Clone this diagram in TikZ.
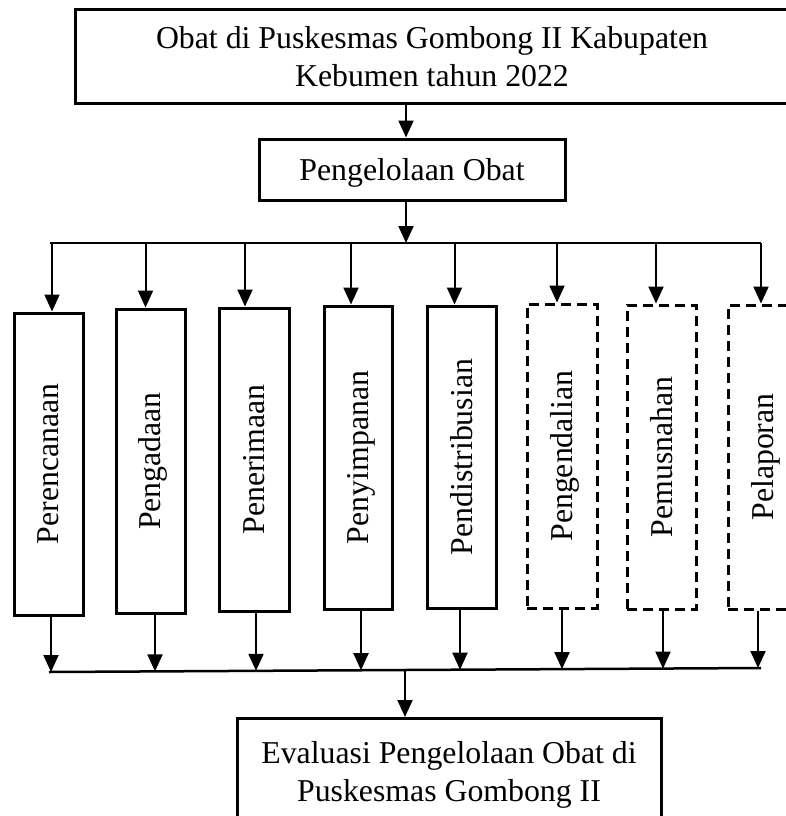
\documentclass[tikz,border=0pt]{standalone}
\usepackage{fontspec}
\setmainfont{Liberation Serif}
\usetikzlibrary{arrows.meta}
\newcommand\stagetext[1]{\rotatebox{90}{\raisebox{0pt}[0.66em][0pt]{#1}}}
\begin{document}
\begin{tikzpicture}[x=1pt,y=-1pt,
  font=\fontsize{31.8}{37.5}\selectfont,
  solidbox/.style={draw,line width=3pt,inner sep=0pt},
  dashbox/.style={draw,line width=3pt,dash pattern=on 10pt off 6pt,inner sep=0pt},
  conn/.style={line width=2pt,-{Triangle[length=17pt,width=15pt]}},
  busline/.style={line width=2.5pt}]
\clip (0,0) rectangle (786,816);
% top boxes
\node[solidbox,minimum width=714pt,minimum height=94pt,align=center] (top) at (432,56.5)
  {Obat di Puskesmas Gombong II Kabupaten\\Kebumen tahun 2022};
\node[solidbox,minimum width=306pt,minimum height=61pt,text depth=0pt] (peng) at (412,169.5) {Pengelolaan Obat};
% stage boxes
\node[solidbox,minimum width=69pt,minimum height=302pt] (p1) at (48.5,464) {\stagetext{Perencanaan}};
\node[solidbox,minimum width=69pt,minimum height=304pt] (p2) at (150.5,461) {\stagetext{Pengadaan}};
\node[solidbox,minimum width=70pt,minimum height=303pt] (p3) at (254,459.5) {\stagetext{Penerimaan}};
\node[solidbox,minimum width=68pt,minimum height=303pt] (p4) at (358,457.5) {\stagetext{Penyimpanan}};
\node[solidbox,minimum width=69pt,minimum height=302pt] (p5) at (461.5,457) {\stagetext{Pendistribusian}};
\node[dashbox,minimum width=70pt,minimum height=304pt] (p6) at (562,456) {\stagetext{Pengendalian}};
\node[dashbox,minimum width=69pt,minimum height=304pt] (p7) at (661.5,457) {\stagetext{Pemusnahan}};
\node[dashbox,minimum width=70pt,minimum height=304pt] (p8) at (763,457) {\stagetext{Pelaporan}};
% bottom box
\node[solidbox,anchor=north,minimum width=424pt,inner ysep=23pt,align=center] (eval) at (449,717)
  {Evaluasi Pengelolaan Obat di\\Puskesmas Gombong II};
% top connectors
\coordinate (a1) at (406,0);
\draw[conn] (a1 |- top.south) -- (a1 |- peng.north);
\coordinate (m1) at (406,243);
\draw[conn] (m1 |- peng.south) -- (m1);
\coordinate (bl) at (50,243);
\coordinate (br) at (761,243);
\draw[busline] (bl) -- (br);
\coordinate (t1) at (52,243);
\coordinate (t2) at (145.5,243);
\coordinate (t3) at (245,243);
\coordinate (t4) at (351,243);
\coordinate (t5) at (454.5,243);
\coordinate (t6) at (557,243);
\coordinate (t7) at (656,243);
\coordinate (t8) at (761,243);
\foreach \i in {1,...,8} {\draw[conn] (t\i) -- (t\i |- p\i.north);}
% bottom connectors
\coordinate (ll) at (49,672);
\coordinate (lr) at (761,668);
\draw[busline] (ll) -- (lr);
\coordinate (u1) at (51,672);
\coordinate (u2) at (155,671.4);
\coordinate (u3) at (256,670.8);
\coordinate (u4) at (361,670.2);
\coordinate (u5) at (460,669.7);
\coordinate (u6) at (562,669.1);
\coordinate (u7) at (663,668.6);
\coordinate (u8) at (758,668);
\foreach \i in {1,...,8} {\draw[conn] (u\i |- p\i.south) -- (u\i);}
\coordinate (m2) at (405,670);
\draw[conn] (m2) -- (m2 |- eval.north);
\end{tikzpicture}
\end{document}
